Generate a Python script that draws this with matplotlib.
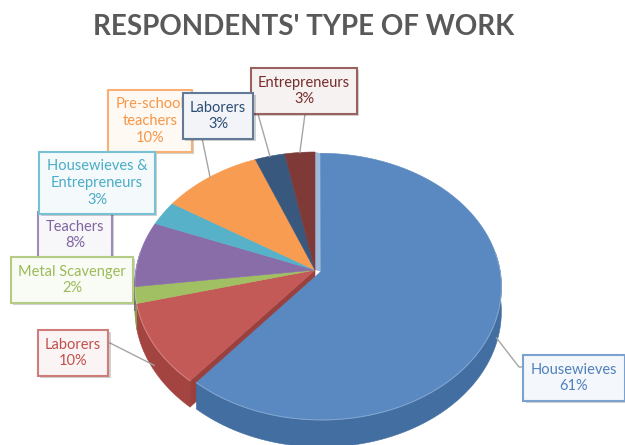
import numpy as np
import matplotlib
matplotlib.use("Agg")
import matplotlib.pyplot as plt
from matplotlib.patches import Polygon
from matplotlib import patheffects as pe
from matplotlib.colors import to_rgb

# ---- data -------------------------------------------------------------
title = "RESPONDENTS' TYPE OF WORK"
categories = ["Housewieves", "Laborers", "Metal Scavenger", "Teachers",
              "Housewieves &\nEntrepreneurs", "Pre-school\nteachers",
              "Laborers", "Entrepreneurs"]
shares = [61, 10, 2, 8, 3, 10, 3, 3]
colors = ["#4F81BD", "#C0504D", "#9BBB59", "#8064A2",
          "#4BACC6", "#F79646", "#2C4D75", "#772C2A"]
explode = [0.035, 0, 0, 0, 0, 0, 0, 0]

# ---- layout (pixel space of the canvas) ------------------------------
W, H = 625, 445
CX, CY = 315, 270          # pie centre on screen
RX, RY = 179, 131.3        # radii of the projected disc
PERSP = 0.1127             # perspective strength
DEPTH = 24                 # thickness of the pie

label_xy = [(574, 378), (73, 353), (72, 280), (75, 235),
            (97, 183), (150, 121), (218, 116), (304, 91)]
leader_from = [[(525, 367), (519, 367)], [(110, 343)], None, None, None,
               [(202, 138)], [(258, 114)], [(305, 114)]]
label_order = [7, 5, 6, 3, 4, 2, 1, 0]


def blend(c, t, f):
    c = np.array(to_rgb(c)); t = np.array(to_rgb(t))
    return tuple(c * (1 - f) + t * f)


def shade(c, f):
    return tuple(np.clip(np.array(to_rgb(c)) * f, 0, 1))


def proj(u, v, z=0.0):
    w = 1 + PERSP * v
    return CX + RX * u / w, CY - RY * v / w + DEPTH * z / w


fig = plt.figure(figsize=(W / 100, H / 100), dpi=100)
ax = fig.add_axes([0, 0, 1, 1])
ax.set_xlim(0, W)
ax.set_ylim(H, 0)
ax.axis("off")

total = float(sum(shares))
bounds = np.concatenate([[0], np.cumsum(shares)]) / total * 2 * np.pi

anchors = []
for i, (s, col) in enumerate(zip(shares, colors)):
    t0, t1 = bounds[i], bounds[i + 1]
    mid = 0.5 * (t0 + t1)
    ox, oy = explode[i] * np.sin(mid), explode[i] * np.cos(mid)
    th = np.linspace(t0, t1, max(4, int((t1 - t0) / 0.01)))
    us, vs = ox + np.sin(th), oy + np.cos(th)

    # upper face
    pts = [proj(ox, oy)] + [proj(u, v) for u, v in zip(us, vs)]
    ax.add_patch(Polygon(pts, closed=True, fc=blend(col, "white", 0.06),
                         ec=blend(col, "white", 0.06), lw=0.4, zorder=20))

    # outer wall (front half only)
    front = np.cos(th) < 0.15
    if front.sum() > 1:
        fu, fv = us[front], vs[front]
        wall = [proj(u, v) for u, v in zip(fu, fv)] + \
               [proj(u, v, 1) for u, v in zip(fu[::-1], fv[::-1])]
        ax.add_patch(Polygon(wall, closed=True, fc=shade(col, 0.85),
                             ec=shade(col, 0.85), lw=0.4, zorder=10))
        rim = [proj(u, v) for u, v in zip(fu, fv)]
        rx, ry = zip(*rim)
        ax.plot(rx, ry, color=blend(col, "white", 0.3), lw=0.7, zorder=21)

    # radial faces exposed by an exploded neighbour
    prev_e = explode[i - 1]
    next_e = explode[(i + 1) % len(shares)]
    for th_e, vis, nb in ((t0, np.sin(t0) < -1e-6, prev_e),
                          (t1, np.sin(t1) > 1e-6, next_e)):
        if vis and nb != explode[i]:
            ue, ve = ox + np.sin(th_e), oy + np.cos(th_e)
            quad = [proj(ox, oy), proj(ue, ve), proj(ue, ve, 1), proj(ox, oy, 1)]
            ax.add_patch(Polygon(quad, closed=True, fc=shade(col, 0.8),
                                 ec=shade(col, 0.8), lw=0.4, zorder=5))

    # sliver at the back seam of an exploded slice
    if explode[i] > 0 and abs(np.sin(t0)) < 1e-6:
        sliver = [proj(0, 0), proj(0, 1), proj(ox, oy + 1), proj(ox, oy)]
        ax.add_patch(Polygon(sliver, closed=True, fc=blend(col, "white", 0.45),
                             ec="none", zorder=4))

    # anchor point for the callout line
    ua, va = ox + np.sin(mid), oy + np.cos(mid)
    za = 0.8 if np.cos(mid) < 0 else 0.0
    anchors.append(proj(ua, va, za))

# ---- callout lines ----------------------------------------------------
for i, start in enumerate(leader_from):
    if start is None:
        continue
    xs = [p[0] for p in start] + [anchors[i][0]]
    ys = [p[1] for p in start] + [anchors[i][1]]
    ax.plot(xs, ys, color="#A5A5A5", lw=1.0, zorder=60)

# ---- callout boxes ----------------------------------------------------
for rank, i in enumerate(label_order):
    col = colors[i]
    txt = f"{categories[i]}\n{shares[i]}%"
    t = ax.text(label_xy[i][0], label_xy[i][1], txt, ha="center", va="center",
                fontsize=10.5, family="Lato", color=col, linespacing=1.25,
                zorder=70 + rank,
                bbox=dict(boxstyle="square,pad=0.5",
                          fc=blend(col, "white", 0.94),
                          ec=blend(col, "white", 0.25), lw=1.5))
    t.get_bbox_patch().set_path_effects(
        [pe.withSimplePatchShadow(offset=(1.5, -1.5), shadow_rgbFace="#000000",
                                  alpha=0.18)])

fig.text(304 / W, 1 - 27 / H, title, ha="center", va="center",
         fontsize=20, fontweight="bold", family="Lato", color="#595959")

fig.savefig("out.png", dpi=100)
